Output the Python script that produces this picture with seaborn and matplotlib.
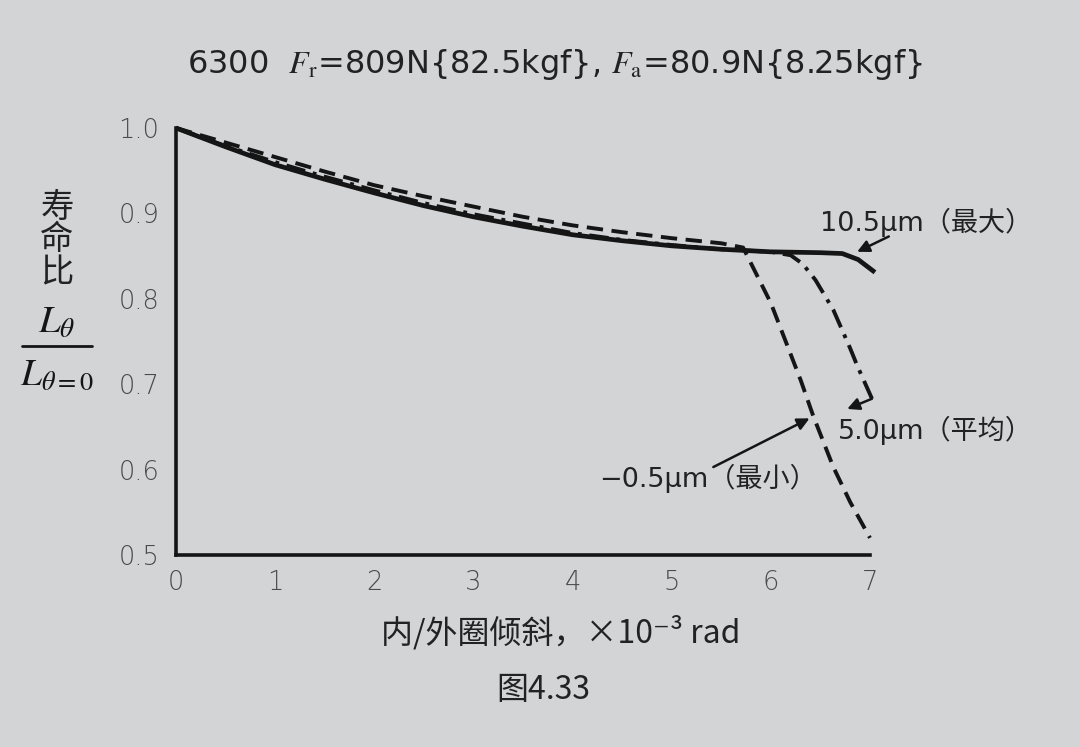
import numpy as np
import pandas as pd
import matplotlib
matplotlib.use("Agg")
import matplotlib.pyplot as plt
import seaborn as sns
from matplotlib.lines import Line2D

# ---- data ----
x_max = [0, 0.5, 1, 1.5, 2, 2.5, 3, 3.5, 4, 4.5, 5, 5.5, 6, 6.5, 6.72, 6.88, 7.05]
y_max = [1.0, 0.978, 0.957, 0.940, 0.924, 0.909, 0.896, 0.885, 0.875, 0.868, 0.862, 0.858, 0.855, 0.854, 0.853, 0.846, 0.831]

x_avg = [0, 0.5, 1, 1.5, 2, 2.5, 3, 3.5, 4, 4.5, 5, 5.5, 6, 6.2, 6.32, 6.45, 6.63, 6.8, 6.87, 7.02]
y_avg = [1.0, 0.979, 0.960, 0.943, 0.927, 0.912, 0.899, 0.888, 0.877, 0.869, 0.863, 0.858, 0.855, 0.851, 0.841, 0.822, 0.787, 0.742, 0.722, 0.683]

x_min = [0, 0.5, 1, 1.5, 2, 2.5, 3, 3.5, 4, 4.5, 5, 5.5, 5.72, 6.0, 6.3, 6.43, 6.63, 6.8, 7.0]
y_min = [1.0, 0.983, 0.966, 0.949, 0.933, 0.920, 0.908, 0.896, 0.886, 0.878, 0.871, 0.865, 0.860, 0.795, 0.705, 0.662, 0.603, 0.562, 0.520]

x_ticks = [0, 1, 2, 3, 4, 5, 6, 7]
y_ticks = [0.5, 0.6, 0.7, 0.8, 0.9, 1.0]
y_tick_labels = ["0.5", "0.6", "0.7", "0.8", "0.9", "1.0"]

labels = ["10.5μm（最大）", "5.0μm（平均）", "−0.5μm（最小）"]

BG = "#d3d4d6"
CJK = ["Noto Sans CJK SC", "DejaVu Sans"]
LAT = ["DejaVu Sans", "Noto Sans CJK SC"]

sns.set_theme(style="white")
plt.rcParams["font.family"] = CJK
plt.rcParams["mathtext.fontset"] = "stix"

fig = plt.figure(figsize=(10.8, 7.47), dpi=100, facecolor=BG)
ax = fig.add_axes([176 / 1080, 1 - 555 / 747, (870 - 176) / 1080, (555 - 128) / 747])
ax.set_facecolor(BG)

sns.lineplot(x=x_max, y=y_max, ax=ax, color="#151515", lw=3.4, sort=False)
l1 = ax.lines[-1]
sns.lineplot(x=x_avg, y=y_avg, ax=ax, color="#151515", lw=2.8, sort=False)
l2 = ax.lines[-1]
l2.set_dashes((5, 2, 1, 2))
sns.lineplot(x=x_min, y=y_min, ax=ax, color="#151515", lw=2.8, sort=False)
l3 = ax.lines[-1]
l3.set_dashes((4.2, 2.2))
for ln in (l1, l2, l3):
    ln.set_clip_on(False)
    ln.set_solid_capstyle("butt")
    ln.set_dash_capstyle("butt")
l1.set_zorder(4)

ax.set_xlim(0, 7)
ax.set_ylim(0.5, 1.0)
ax.set_xticks(x_ticks)
ax.set_xticklabels([str(t) for t in x_ticks])
ax.set_yticks(y_ticks)
ax.set_yticklabels(y_tick_labels)
ax.tick_params(axis="both", direction="in", length=7, width=2, color="#151515",
               labelsize=18.5, labelcolor="#4a4a4a")
ax.tick_params(axis="y", pad=12)
ax.tick_params(axis="x", pad=11)
for lab in ax.get_xticklabels() + ax.get_yticklabels():
    lab.set_family("DejaVu Sans")
    lab.set_fontweight("light")
for s in ["top", "right"]:
    ax.spines[s].set_visible(False)
for s in ["left", "bottom"]:
    ax.spines[s].set_color("#151515")
    ax.spines[s].set_linewidth(2.6)
ax.set_xlabel("")
ax.set_ylabel("")

# annotations
tk = dict(fontsize=19.5, color="#222222", clip_on=False, va="center", ha="left", family=LAT)
ax.text(6.50, 0.890, labels[0], **tk)
ax.text(6.68, 0.646, labels[1], **tk)
ax.text(4.27, 0.590, labels[2], **tk)
ap = dict(arrowstyle="-|>", lw=1.8, color="#151515", mutation_scale=18, shrinkA=0, shrinkB=0)
ax.annotate("", xy=(6.87, 0.855), xytext=(7.19, 0.873), arrowprops=ap, annotation_clip=False)
ax.annotate("", xy=(6.39, 0.660), xytext=(5.42, 0.603), arrowprops=ap, annotation_clip=False)
ax.annotate("", xy=(6.77, 0.671), xytext=(7.02, 0.683), arrowprops=ap, annotation_clip=False)

# title
fig.text(555 / 1080, 1 - 65 / 747,
         r"6300  $F_{\mathrm{r}}$=809N{82.5kgf}, $F_{\mathrm{a}}$=80.9N{8.25kgf}",
         ha="center", va="center", fontsize=23, color="#222222", family=LAT)

# y label
fig.text(57 / 1080, 1 - 240 / 747, "寿\n命\n比", ha="center", va="center",
         fontsize=24, color="#222222", linespacing=0.92)
fig.text(57 / 1080, 1 - 322 / 747, r"$L_{\theta}$", ha="center", va="center",
         fontsize=28, color="#151515")
fig.text(57 / 1080, 1 - 374 / 747, r"$L_{\theta\mathrm{=0}}$", ha="center", va="center",
         fontsize=27, color="#151515")
fig.add_artist(Line2D([22 / 1080, 92 / 1080], [1 - 346 / 747, 1 - 346 / 747],
                      transform=fig.transFigure, color="#151515", lw=2))

# x label
fig.text(561 / 1080, 1 - 632 / 747, "内/外圈倾斜，×10⁻³ rad", ha="center", va="center",
         fontsize=23, color="#222222")
# caption
fig.text(543 / 1080, 1 - 690 / 747, "图4.33", ha="center", va="center",
         fontsize=23, color="#222222")

fig.savefig("out.png", dpi=100, facecolor=BG)
